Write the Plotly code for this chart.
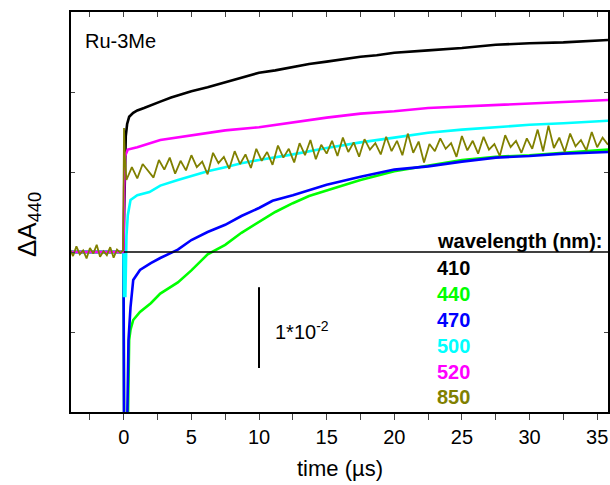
import plotly.graph_objects as go

# Values in units of 1e-3 (scale bar = 1*10^-2 = 10 units)
t_410 = [-4.2, -0.02, 0.03, 0.08, 0.15, 0.25, 0.4, 0.7, 1.0, 1.5, 2.0, 2.7, 3.5, 5.0, 6.2, 7.5, 8.7, 10.0, 11.2, 12.5, 13.7, 15.0, 16.2, 17.5, 18.7, 20.0, 22.5, 25.0, 27.5, 30.0, 32.5, 35.8]
v_410 = [0.0, 0.0, 5.0, 11.0, 14.5, 16.0, 16.9, 17.4, 17.7, 18.0, 18.3, 18.8, 19.3, 20.1, 20.6, 21.2, 21.8, 22.4, 22.7, 23.1, 23.5, 23.8, 24.1, 24.4, 24.6, 24.9, 25.2, 25.5, 25.9, 26.1, 26.2, 26.5]

t_440 = [-4.2, -0.02, 0.03, 0.3, 0.4, 0.5, 0.7, 1.2, 2.0, 2.7, 4.0, 5.0, 6.2, 7.5, 8.7, 10.0, 11.2, 12.5, 13.7, 15.0, 17.5, 20.0, 22.5, 25.0, 27.5, 30.0, 32.5, 35.8]
v_440 = [0.0, 0.0, -22.0, -22.0, -11.0, -9.7, -8.5, -7.5, -6.4, -5.2, -3.8, -2.3, -0.3, 0.9, 2.4, 3.8, 5.0, 6.1, 7.0, 7.7, 9.0, 10.1, 10.8, 11.5, 11.9, 12.1, 12.4, 12.8]

t_470 = [-4.2, -0.02, 0.02, 0.25, 0.35, 0.5, 0.7, 1.2, 2.0, 2.7, 4.0, 5.0, 6.2, 7.5, 8.7, 10.0, 11.0, 12.5, 15.0, 17.5, 20.0, 22.5, 25.0, 27.5, 30.0, 32.5, 35.8]
v_470 = [0.0, 0.0, -22.0, -22.0, -11.0, -6.9, -3.5, -2.25, -1.4, -0.75, 0.3, 1.5, 2.5, 3.4, 4.5, 5.5, 6.4, 7.1, 8.4, 9.4, 10.3, 10.7, 11.3, 11.8, 12.0, 12.3, 12.5]

t_500 = [-4.2, -0.02, 0.02, 0.12, 0.2, 0.3, 0.5, 1.0, 1.9, 2.7, 4.0, 5.0, 6.2, 7.5, 8.7, 10.0, 12.5, 15.0, 17.5, 20.0, 22.5, 25.0, 27.5, 30.0, 32.5, 35.8]
v_500 = [0.0, 0.0, -5.5, -5.5, 2.0, 4.6, 6.5, 7.1, 7.5, 8.3, 9.0, 9.5, 10.1, 10.6, 11.1, 11.5, 12.2, 13.0, 13.7, 14.3, 14.9, 15.3, 15.6, 15.9, 16.1, 16.4]

t_520 = [-4.2, -0.02, 0.03, 0.1, 0.3, 1.0, 2.7, 5.0, 7.5, 10.0, 12.5, 15.0, 17.5, 20.0, 22.5, 25.0, 27.5, 30.0, 32.5, 35.8]
v_520 = [0.0, 0.0, 8.0, 12.0, 12.8, 13.1, 14.0, 14.6, 15.2, 15.6, 16.2, 16.8, 17.3, 17.6, 18.0, 18.2, 18.4, 18.6, 18.8, 19.0]

t_850 = [-4.0, -3.75, -3.5, -3.25, -3.0, -2.75, -2.5, -2.25, -2.0, -1.75, -1.5, -1.25, -1.0, -0.75, -0.5, -0.25, -0.05, 0.02, 0.08, 0.14,
         0.2, 0.6, 1.0, 1.4, 1.8, 2.2, 2.6, 3.0, 3.4, 3.8, 4.2, 4.6, 5.0, 5.4, 5.8, 6.2, 6.6, 7.0, 7.4, 7.8,
         8.2, 8.6, 9.0, 9.4, 9.8, 10.2, 10.6, 11.0, 11.4, 11.8, 12.2, 12.6, 13.0, 13.4, 13.8, 14.2, 14.6, 15.0, 15.4, 15.8,
         16.2, 16.6, 17.0, 17.4, 17.8, 18.2, 18.6, 19.0, 19.4, 19.8, 20.2, 20.6, 21.0, 21.4, 21.8, 22.2, 22.6, 23.0, 23.4, 23.8,
         24.2, 24.6, 25.0, 25.4, 25.8, 26.2, 26.6, 27.0, 27.4, 27.8, 28.2, 28.6, 29.0, 29.4, 29.8, 30.2, 30.6, 31.0, 31.4, 31.8,
         32.2, 32.6, 33.0, 33.4, 33.8, 34.2, 34.6, 35.0, 35.4, 35.8]
v_850 = [0.4, -0.5, 0.7, -0.3, 0.2, -0.8, 0.5, -0.2, 0.9, -0.6, 0.1, -0.4, 0.6, -0.7, 0.3, -0.1, 0.2, 15.5, 12.0, 9.5,
         9.0, 10.6, 9.2, 11.0, 10.1, 9.3, 11.5, 10.3, 11.8, 9.8, 11.4, 10.2, 12.1, 10.6, 11.3, 9.7, 12.4, 11.1, 11.9, 10.4,
         12.6, 11.0, 12.2, 10.5, 12.9, 11.4, 12.5, 10.9, 13.3, 11.8, 12.9, 11.2, 13.6, 12.1, 14.0, 11.6, 13.4, 12.3, 13.9, 12.0,
         14.3, 12.5, 13.7, 11.9, 14.1, 12.8, 13.6, 12.2, 14.4, 12.6, 13.9, 12.1, 14.8, 12.4, 13.8, 11.2, 13.5, 12.6, 14.2, 12.9,
         13.6, 11.9, 14.5, 12.7, 13.9, 12.3, 14.4, 12.8, 13.5, 12.0, 14.6, 13.1, 13.9, 12.4, 14.2, 12.9, 15.3, 12.6, 15.8, 13.0,
         14.3, 12.5, 14.8, 13.2, 14.0, 12.7, 15.0, 13.1, 14.3, 13.4]

zero_t = [0.0, 40.0]
zero_v = [0.0, 0.0]

scale_t = [10.0, 10.0]
scale_v = [-4.4, -14.5]

x_ticks = [0, 5, 10, 15, 20, 25, 30, 35]
wavelengths = ["410", "440", "470", "500", "520", "850"]
colors = ["#000000", "#00ff00", "#0000ff", "#00ffff", "#ff00ff", "#808000"]

FONT = "Arial, 'Liberation Sans', sans-serif"

series = [(t_410, v_410), (t_440, v_440), (t_470, v_470), (t_500, v_500), (t_520, v_520), (t_850, v_850)]
widths = [2.6, 2.6, 2.6, 2.6, 2.6, 1.8]

fig = go.Figure()
for (t, v), c, w, name in zip(series, colors, widths, wavelengths):
    fig.add_trace(go.Scatter(x=t, y=v, mode="lines", line=dict(color=c, width=w), name=name, showlegend=False))

fig.add_trace(go.Scatter(x=zero_t, y=zero_v, mode="lines", line=dict(color="black", width=1.5), showlegend=False))
fig.add_trace(go.Scatter(x=scale_t, y=scale_v, mode="lines", line=dict(color="black", width=2), showlegend=False))
# top axis carrier
fig.add_trace(go.Scatter(x=[None], y=[None], xaxis="x2", showlegend=False))

xr = [-3.9, 35.8]
fig.update_layout(
    width=610, height=485,
    margin=dict(l=71, r=2, t=12, b=73, autoexpand=False),
    plot_bgcolor="white", paper_bgcolor="white",
    font=dict(family=FONT, color="black", size=20),
    xaxis=dict(range=xr, tickvals=x_ticks, ticks="outside", ticklen=6, tickwidth=1.3, automargin=False,
               showline=True, linecolor="black", linewidth=1.5, showgrid=False, zeroline=False,
               tickfont=dict(size=20),
               minor=dict(dtick=2.5, tick0=0, ticks="outside", ticklen=6, tickwidth=1.3)),
    xaxis2=dict(range=xr, overlaying="x", side="top", tickvals=x_ticks, ticks="inside", ticklen=5, tickwidth=1.3,
                automargin=False,
                showticklabels=False, showline=True, linecolor="black", linewidth=1.5, showgrid=False, zeroline=False,
                minor=dict(dtick=2.5, tick0=0, ticks="inside", ticklen=5, tickwidth=1.3)),
    yaxis=dict(range=[-20, 30], dtick=10, tick0=0, ticks="inside", ticklen=4, tickwidth=1.3, showticklabels=False,
               automargin=False,
               showline=True, linecolor="black", linewidth=1.5, mirror="ticks", showgrid=False, zeroline=False),
)

# axis titles
fig.add_annotation(x=16.0, y=-0.14, xref="x", yref="paper", text="time (µs)", showarrow=False,
                   xanchor="center", yanchor="middle", font=dict(size=22))
fig.add_annotation(x=0, xref="paper", xshift=-43, y=0.4675, yref="paper", text="ΔA<sub>440</sub>",
                   showarrow=False, textangle=-90, xanchor="center", yanchor="middle", font=dict(size=26))

fig.add_annotation(x=-3.0, y=26.4, xref="x", yref="y", text="Ru-3Me", showarrow=False,
                   xanchor="left", yanchor="middle", font=dict(size=20))
fig.add_annotation(x=11.05, y=-9.75, xref="x", yref="y", text="1*10<sup>-2</sup>", showarrow=False,
                   xanchor="left", yanchor="middle", font=dict(size=20))
fig.add_annotation(x=23.0, y=1.4, xref="x", yref="y", text="<b>wavelength (nm):</b>", showarrow=False,
                   xanchor="left", yanchor="middle", font=dict(size=20))
label_y = [-1.97, -5.2, -8.5, -11.7, -15.0, -18.1]
for wl, c, yy in zip(wavelengths, colors, label_y):
    fig.add_annotation(x=23.0, y=yy, xref="x", yref="y", text=f"<b>{wl}</b>", showarrow=False,
                       xanchor="left", yanchor="middle", font=dict(size=20, color=c))

fig.write_html("out.html",
               config={"displayModeBar": False},
               post_script="document.body.style.margin='0px';document.body.style.overflow='hidden';"
                           "document.documentElement.style.overflow='hidden';")
